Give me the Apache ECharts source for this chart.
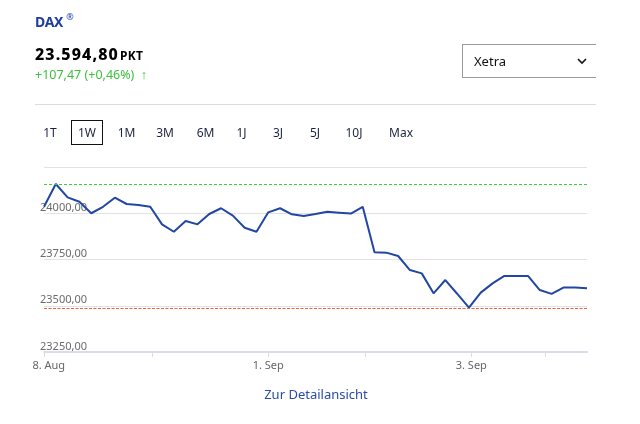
<!DOCTYPE html>
<html>
<head>
<meta charset="utf-8">
<script src="https://cdn.jsdelivr.net/npm/echarts@6/dist/echarts.min.js"></script>
<style>
  html, body { margin:0; padding:0; background:#fff; }
  body { width:640px; height:424px; position:relative; overflow:hidden; font-family:"Noto Sans", "Open Sans", sans-serif; }
  #chart { position:absolute; left:0; top:0; width:640px; height:424px; }
  .abs { position:absolute; white-space:nowrap; }
  #title { left:35px; top:11px; font-size:14px; font-weight:700; color:#1f3fa0; letter-spacing:-0.3px; }
  #title sup { font-size:9px; font-weight:400; margin-left:3px; position:relative; top:-1px; }
  #price { left:35px; top:43px; font-size:16px; font-weight:800; color:#000; letter-spacing:1.1px; }
  #price span { font-size:12px; font-weight:700; margin-left:1px; letter-spacing:0.3px; }
  #change { left:35px; top:66px; font-size:12.5px; color:#3cc23c; }
  #drop { left:462px; top:44px; width:134px; height:34px; border:1px solid #9a9a9a; border-right:none; box-sizing:border-box; }
  #drop .t { position:absolute; left:11px; top:7px; font-size:13px; color:#111; }
  #drop svg { position:absolute; left:114px; top:13px; }
  #divider { left:35px; top:104px; width:561px; height:0; border-top:1.5px solid #dcdcdc; }
  .btn { top:124px; font-size:12px; color:#1b2340; transform:translateX(-50%); }
  #box { left:71px; top:120px; width:32px; height:25px; border:1.3px solid #111; box-sizing:border-box; }
  #link { left:316px; top:385px; transform:translateX(-50%); font-size:13px; color:#2a4ca8; }
</style>
</head>
<body>
<div id="chart"></div>
<div class="abs" id="title">DAX<sup>®</sup></div>
<div class="abs" id="price">23.594,80<span>PKT</span></div>
<div class="abs" id="change">+107,47 (+0,46%) &nbsp;↑</div>
<div class="abs" id="drop"><span class="t">Xetra</span>
  <svg width="10" height="7" viewBox="0 0 10 7"><polyline points="1,1 5,5 9,1" fill="none" stroke="#111" stroke-width="1.6"/></svg>
</div>
<div class="abs" id="divider"></div>
<div class="abs" id="box"></div>
<div id="btns"></div>
<div class="abs" id="link">Zur Detailansicht</div>
<script>
// ---- data ----
const rangeButtons = ['1T','1W','1M','3M','6M','1J','3J','5J','10J','Max'];
const rangeButtonX = [50, 87, 126.5, 165, 205.5, 241.5, 278, 315, 354, 401];

const closeValues = [
  24035, 24158, 24086, 24062, 24000, 24035, 24084, 24050, 24045, 24035,
  23940, 23900, 23958, 23940, 23996, 24027, 23987, 23922, 23900, 24005,
  24027, 23994, 23985, 23996, 24008, 24003, 23998, 24035, 23789, 23787,
  23769, 23693, 23675, 23567, 23639, 23565, 23490, 23571, 23621, 23661,
  23661, 23661, 23585, 23564, 23598, 23598, 23594.8
];
const highLine = 24158;
const prevClose = 23487.33;

const xTickPositions = [0, 9.15, 19, 27.2, 36.2, 42.5];
const xLabelPositions = [0.4, 19, 36.2];
const xLabelTexts = ['8. Aug', '1. Sep', '3. Sep'];

const yMin = 23250, yMax = 24250, yStep = 250;

// ---- buttons ----
const btns = document.getElementById('btns');
rangeButtons.forEach((b, i) => {
  const d = document.createElement('div');
  d.className = 'abs btn';
  d.style.left = rangeButtonX[i] + 'px';
  d.textContent = b;
  btns.appendChild(d);
});

// ---- chart ----
const chart = echarts.init(document.getElementById('chart'), null, { renderer: 'canvas' });
const seriesData = closeValues.map((v, i) => [i, v]);

chart.setOption({
  animation: false,
  grid: { left: 44, right: 53, top: 167, bottom: 72, containLabel: false },
  xAxis: {
    type: 'value',
    min: 0,
    max: closeValues.length - 1,
    splitLine: { show: false },
    axisLine: { show: true, lineStyle: { color: '#d9dde8', width: 2 } },
    axisTick: { show: true, customValues: xTickPositions, length: 5, lineStyle: { color: '#d9dde8', width: 1 } },
    axisLabel: {
      customValues: xLabelPositions,
      color: '#666',
      fontSize: 11,
      margin: 8,
      fontFamily: 'Noto Sans',
      formatter: (v) => {
        const idx = xLabelPositions.findIndex(p => Math.abs(p - v) < 1e-6);
        return idx >= 0 ? xLabelTexts[idx] : '';
      }
    }
  },
  yAxis: {
    type: 'value',
    min: yMin,
    max: yMax,
    interval: yStep,
    axisLine: { show: false },
    axisTick: { show: false },
    splitLine: { show: true, lineStyle: { color: '#e2e2e2', width: 1.2 } },
    axisLabel: {
      inside: true,
      margin: -4,
      showMaxLabel: false,
      color: '#6b6b6b',
      fontSize: 11,
      fontFamily: 'Noto Sans',
      verticalAlign: 'bottom',
      formatter: (v) => v.toFixed(2).replace('.', ',')
    }
  },
  series: [{
    type: 'line',
    data: seriesData,
    showSymbol: false,
    lineStyle: { color: '#2146a3', width: 2 },
    itemStyle: { color: '#2146a3' },
    z: 3,
    markLine: {
      silent: true,
      symbol: 'none',
      label: { show: false },
      data: [
        { yAxis: highLine, lineStyle: { color: '#3ccf3c', type: [3, 2], width: 1 } },
        { yAxis: prevClose, lineStyle: { color: '#ee6040', type: [3, 1.5], width: 1.2 } }
      ]
    }
  }]
});
</script>
</body>
</html>
